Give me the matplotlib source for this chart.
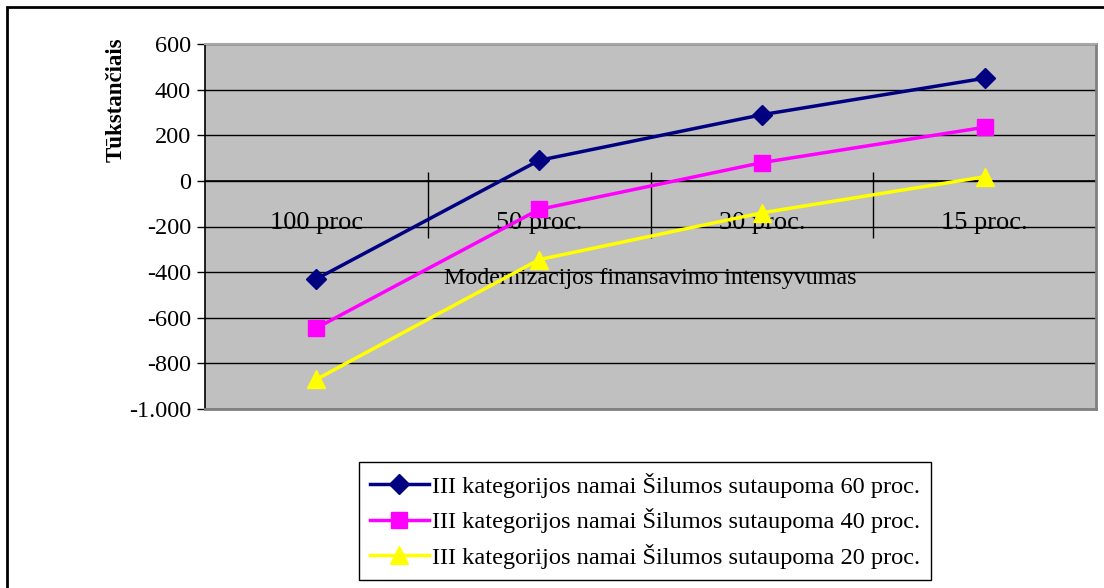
import numpy as np
import matplotlib
matplotlib.use("Agg")
import matplotlib.pyplot as plt
from matplotlib.patches import Rectangle
from matplotlib.ticker import FuncFormatter

plt.rcParams["font.family"] = ["Liberation Serif", "DejaVu Serif"]

categories = ["100 proc", "50 proc.", "30 proc.", "15 proc."]
s60 = [-430, 90, 290, 450]
s40 = [-645, -125, 80, 235]
s20 = [-870, -345, -140, 18]
series_names = ["III kategorijos namai Šilumos sutaupoma 60 proc.",
                "III kategorijos namai Šilumos sutaupoma 40 proc.",
                "III kategorijos namai Šilumos sutaupoma 20 proc."]
y_ticks = [600, 400, 200, 0, -200, -400, -600, -800, -1000]

fig = plt.figure(figsize=(11.04, 5.88), dpi=100)
ax = fig.add_axes([205/1104, 1-409/588, 891/1104, 365/588])
ax.set_facecolor("#C0C0C0")

x = np.arange(len(categories))
ax.plot(x, s60, color="#000080", lw=2.5, marker="D", ms=10, label=series_names[0], zorder=5)
ax.plot(x, s40, color="#FF00FF", lw=2.5, marker="s", ms=11, label=series_names[1], zorder=5)
ax.plot(x, s20, color="#FFFF00", lw=2.5, marker="^", ms=13, label=series_names[2], zorder=5)

ax.set_xlim(-0.5, len(categories) - 0.5)
ax.set_ylim(-1000, 600)
ax.set_yticks(y_ticks)
ax.yaxis.set_major_formatter(FuncFormatter(lambda v, p: f"{int(v):,}".replace(",", ".")))
ax.tick_params(axis="y", direction="out", length=6, width=1, labelsize=17.5, pad=4)
ax.grid(axis="y", color="black", lw=1)
ax.set_axisbelow(True)
ax.set_xticks([])

# plot area frame
ax.spines["left"].set_color("black")
ax.spines["left"].set_linewidth(1.2)
for side in ["right", "bottom"]:
    ax.spines[side].set_color("#808080")
    ax.spines[side].set_linewidth(2)
ax.spines["top"].set_color("#A8A8A8")
ax.spines["top"].set_linewidth(1.5)

# category axis crossing at zero
ax.axhline(0, color="black", lw=1.2, zorder=2)
bounds = np.arange(len(categories) - 1) + 0.5
ax.vlines(bounds, -250, 40, color="black", lw=1, zorder=2)

for i, cat in enumerate(categories):
    ax.annotate(cat, (i, 0), xytext=(0, -30), textcoords="offset points",
                ha="center", va="center", fontsize=19, zorder=3)
ax.annotate("Modernizacijos finansavimo intensyvumas", (0.5, 0),
            xycoords=("axes fraction", "data"), xytext=(0, -70), textcoords="offset points",
            ha="center", va="center", fontsize=17.3, zorder=3)

ax.set_ylabel("Tūkstančiais", fontsize=16.5, fontweight="bold")
ax.yaxis.set_label_coords(-0.088, 0.846)

leg = ax.legend(loc="upper left", bbox_to_anchor=(359/1104, 1-462/588),
                bbox_transform=fig.transFigure, borderaxespad=0, fontsize=17.6,
                frameon=True, fancybox=False, edgecolor="black", framealpha=1,
                handlelength=2.4, handletextpad=0.15, borderpad=0.45, labelspacing=0.42)
leg.get_frame().set_linewidth(1)

# outer chart border
fig.add_artist(Rectangle((7/1104, -0.1), 1.2, 1.1 - 7/588, transform=fig.transFigure,
                         fill=False, edgecolor="black", lw=2))

fig.savefig("out.png", dpi=100)
